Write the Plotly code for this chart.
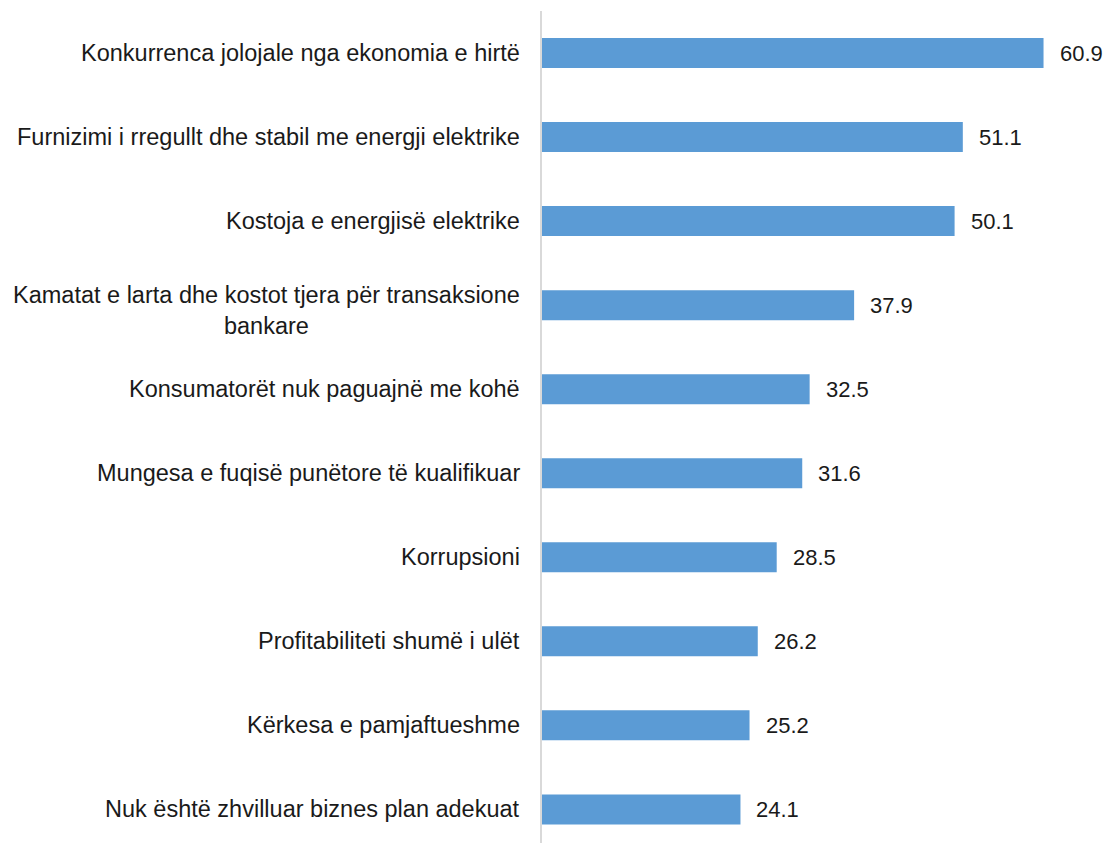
import plotly.graph_objects as go

categories = [
    "Konkurrenca jolojale nga ekonomia e hirtë",
    "Furnizimi i rregullt dhe stabil me energji elektrike",
    "Kostoja e energjisë elektrike",
    "Kamatat e larta dhe kostot tjera për transaksione<br>bankare",
    "Konsumatorët nuk paguajnë me kohë",
    "Mungesa e fuqisë punëtore të kualifikuar",
    "Korrupsioni",
    "Profitabiliteti shumë i ulët",
    "Kërkesa e pamjaftueshme",
    "Nuk është zhvilluar biznes plan adekuat",
]
values = [60.9, 51.1, 50.1, 37.9, 32.5, 31.6, 28.5, 26.2, 25.2, 24.1]
value_labels = ["60.9", "51.1", "50.1", "37.9", "32.5", "31.6", "28.5", "26.2", "25.2", "24.1"]

FONT = "Liberation Sans, Arial, sans-serif"
TXT = "#1a1a1a"

fig = go.Figure()
fig.add_trace(go.Bar(
    x=values, y=categories, orientation="h",
    marker=dict(color="#5B9BD5", line=dict(width=0)),
    width=0.357, hoverinfo="skip",
))

for c, v, t in zip(categories, values, value_labels):
    fig.add_annotation(x=v, y=c, xref="x", yref="y", text=t, showarrow=False,
                       xanchor="left", yanchor="middle", xshift=14,
                       font=dict(family=FONT, size=22, color=TXT))
    fig.add_annotation(x=0, y=c, xref="x", yref="y", text=c, showarrow=False,
                       xanchor="right", yanchor="middle", xshift=-20, align="center",
                       yshift=-5 if "<br>" in c else 0,
                       font=dict(family=FONT, size=23.5, color=TXT))

fig.update_layout(
    width=1106, height=843,
    margin=dict(l=542, r=4, t=11, b=0),
    paper_bgcolor="white", plot_bgcolor="white",
    showlegend=False,
    xaxis=dict(range=[0, 68], showgrid=False, zeroline=False, showline=False,
               showticklabels=False, ticks=""),
    yaxis=dict(type="category", categoryorder="array", categoryarray=categories,
               range=[9.4, -0.5], showgrid=False, zeroline=False,
               showline=True, linecolor="#d9d9d9", linewidth=2,
               showticklabels=False, ticks=""),
)

fig.write_html("out.html", config={"displayModeBar": False},
               post_script="document.body.style.margin='0';document.body.style.overflow='hidden';")
